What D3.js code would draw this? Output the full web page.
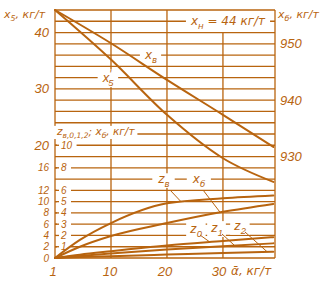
<!DOCTYPE html>
<html>
<head>
<meta charset="utf-8">
<script src="https://cdn.jsdelivr.net/npm/d3@7"></script>
<style>
  body { margin: 0; background: #fff; }
  svg text { font-family: "Liberation Sans", sans-serif; font-style: italic; fill: #b8640f; }
  svg text.cyr { font-family: "DejaVu Sans", sans-serif; font-style: oblique; }
</style>
</head>
<body>
<div id="chart"></div>
<script>
// alpha, kg/t (x axis)
const alpha = [1, 10, 20, 30, 39];
const alphaLow = [1, 5, 10, 20, 30, 39];

// upper curves, read on the x5 scale (kg/t)
const xV = [44, 38.1, 31.6, 25.4, 19.7];
const x5p = [44, 35.2, 25.4, 17.7, 13.5];

// lower curves, read on the z scale
const zV = [0, 1.6, 3.1, 4.85, 5.3, 5.55];
const xB = [0, 1.0, 1.95, 3.1, 4.1, 4.8];
const z0 = [0, 0.3, 0.6, 1.1, 1.5, 1.85];
const z1 = [0, 0.2, 0.4, 0.75, 1.05, 1.3];
const z2 = [0, 0.08, 0.15, 0.3, 0.45, 0.55];

// tick labels
const xTicks = [1, 10, 20, 30];
const leftTicks = [40, 30, 20, 16, 12, 10, 8, 6, 4, 2, 0];
const zTicks = [10, 8, 6, 5, 4, 3, 2, 1];
const rightTicks = [950, 940, 930];

const color = "#b8640f";
const W = 327, H = 289;

const svg = d3.select("#chart").append("svg")
    .attr("width", W).attr("height", H);

// piecewise scale: the axis starts at alpha = 1
const x = d3.scaleLinear().domain([1, 10, 39.3]).range([55, 111, 275]);
const y = d3.scaleLinear().domain([0, 44]).range([258, 10]);
const yR = d3.scaleLinear().domain([912, 956]).range([258, 10]);
const yZ = d3.scaleLinear().domain([0, 22]).range([258, 10]);

const grid = svg.append("g")
    .attr("stroke", color).attr("stroke-width", 1.3).attr("fill", "none");

// horizontal grid
grid.selectAll(".h")
    .data(d3.range(0, 45, 2))
    .enter().append("line")
    .attr("x1", x(1)).attr("x2", x(39.3))
    .attr("y1", d => y(d)).attr("y2", d => y(d));

// vertical grid
grid.selectAll(".v")
    .data([1, 10, 20, 30, 39.3])
    .enter().append("line")
    .attr("x1", d => x(d)).attr("x2", d => x(d))
    .attr("y1", d => d === 30 ? y(40) : y(44))
    .attr("y2", y(0));

const labels = svg.append("g");

// text with sub/superscripts and an optional white box behind it
function label(px, py, parts, opts) {
    opts = opts || {};
    const fs = opts.size || 13;
    const gg = labels.append("g");
    const t = gg.append("text")
        .attr("x", px).attr("y", py + fs * 0.35)
        .attr("font-size", fs)
        .attr("text-anchor", opts.anchor || "start");
    if (opts.cls) t.attr("class", opts.cls);
    if (opts.spacing) t.attr("letter-spacing", opts.spacing);
    let shift = 0;
    parts.forEach(p => {
        const s = t.append("tspan").text(p[0]);
        let target = 0;
        if (p[1] === "sub") { target = fs * 0.3; s.attr("font-size", fs * 0.72); }
        if (p[1] === "sup") { target = -fs * 0.35; s.attr("font-size", fs * 0.8); }
        if (target - shift !== 0) s.attr("dy", target - shift);
        if (p[2]) s.attr("dx", p[2]);
        shift = target;
    });
    if (opts.bg) {
        const b = t.node().getBBox();
        const pad = opts.pad == null ? 3 : opts.pad;
        gg.insert("rect", "text")
            .attr("x", b.x - pad).attr("y", b.y + 1)
            .attr("width", b.width + pad * 2).attr("height", b.height - 2)
            .attr("fill", "#fff");
    }
    return gg;
}

// left axis (x5)
leftTicks.forEach(v => label(49, y(v), [[String(v)]], { anchor: "end", size: v >= 20 ? 13 : 10 }));
// inner z axis
zTicks.forEach(v => {
    label(61, yZ(v), [[String(v)]], { bg: true, pad: 4, size: 10 });
    labels.append("line").attr("x1", 55).attr("x2", 59)
        .attr("y1", yZ(v)).attr("y2", yZ(v))
        .attr("stroke", color).attr("stroke-width", 1.3);
});
// right axis
rightTicks.forEach(v => label(280, yR(v), [[String(v)]]));
// bottom axis
const xShift = { 1: -2, 10: -1, 20: -2, 30: -4 };
xTicks.forEach(v => label(x(v) + xShift[v], 271, [[String(v)]], { anchor: "middle" }));
label(231, 271, [["\u1fb1, кг/т"]], { cls: "cyr", size: 12 });

// axis titles
label(4, 14, [["x"], ["5", "sub"], [", кг/т"]], { cls: "cyr", size: 11 });
label(278, 14, [["x"], ["б", "sub"], [", кг/т"]], { cls: "cyr", size: 11 });

// in-plot labels
label(228, y(42), [["x"], ["н", "sub"], [" = 44 кг/т"]], { cls: "cyr", anchor: "middle", bg: true, pad: 4, size: 12 });
label(151, y(36), [["x"], ["в", "sub"]], { cls: "cyr", anchor: "middle", bg: true, pad: 4, size: 12 });
label(108, y(32), [["x"], ["'", "sup"], ["5", "sub", -3]], { anchor: "middle", bg: true, pad: 4 });
label(57, y(22.5), [["z"], ["в,0,1,2", "sub"], ["; x"], ["б", "sub"], [", кг/т"]], { cls: "cyr", bg: true, pad: 2, size: 10.5 });
label(164, y(14), [["z"], ["в", "sub"]], { cls: "cyr", anchor: "middle", bg: true, pad: 5, size: 12 });
label(199, y(14), [["x"], ["б", "sub"]], { cls: "cyr", anchor: "middle", bg: true, pad: 5, size: 12 });
label(196, y(5.2), [["z"], ["0", "sub"]], { anchor: "middle", bg: true, pad: 3 });
label(217, y(5.4), [["z"], ["1", "sub"]], { anchor: "middle", bg: true, pad: 3 });
label(240, y(5.8), [["z"], ["2", "sub"]], { anchor: "middle", bg: true, pad: 3 });

// curves
const curves = svg.append("g").attr("fill", "none").attr("stroke", color)
    .attr("stroke-width", 2).attr("stroke-linecap", "round");

const lineUp = d3.line().x((d, i) => x(alpha[i])).y(d => y(d)).curve(d3.curveMonotoneX);
const lineLow = d3.line().x((d, i) => x(alphaLow[i])).y(d => yZ(d)).curve(d3.curveMonotoneX);

[xV, x5p].forEach(s => curves.append("path").attr("d", lineUp(s)));
[zV, xB, z0, z1, z2].forEach(s => curves.append("path").attr("d", lineLow(s)));

// leader lines from labels to curves
const leaders = [
    [170, 190, x(22.5), yZ(5.0)],
    [203, 190, x(29.5), yZ(4.05)],
    [200, 235, x(27.7), yZ(1.4)],
    [222, 234, x(32.1), yZ(1.1)],
    [245, 232, x(37.9), yZ(0.55)]
];
svg.append("g").attr("stroke", color).attr("stroke-width", 1)
    .selectAll("line").data(leaders).enter().append("line")
    .attr("x1", d => d[0]).attr("y1", d => d[1])
    .attr("x2", d => d[2]).attr("y2", d => d[3]);
</script>
</body>
</html>
